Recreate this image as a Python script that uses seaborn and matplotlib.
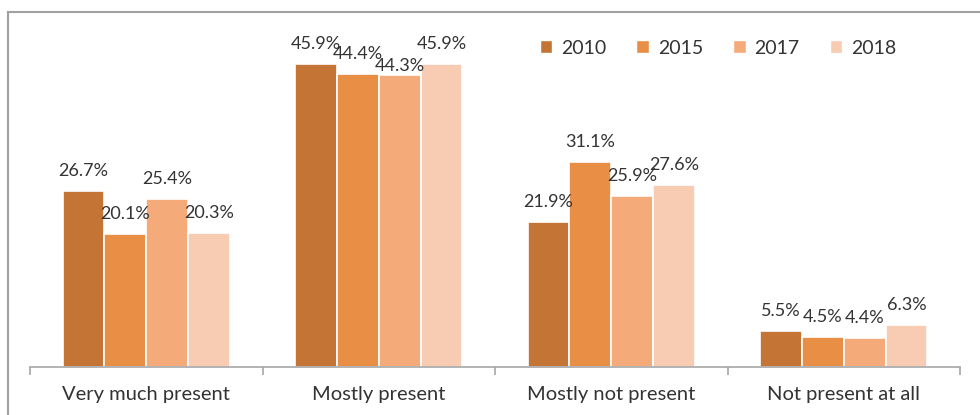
import matplotlib
matplotlib.use("Agg")
import matplotlib.pyplot as plt
from matplotlib.patches import Rectangle
from matplotlib.ticker import FixedLocator
import seaborn as sns
import pandas as pd

categories = ["Very much present", "Mostly present", "Mostly not present", "Not present at all"]
years = ["2010", "2015", "2017", "2018"]
values_2010 = [26.7, 45.9, 21.9, 5.5]
values_2015 = [20.1, 44.4, 31.1, 4.5]
values_2017 = [25.4, 44.3, 25.9, 4.4]
values_2018 = [20.3, 45.9, 27.6, 6.3]
colors = ["#C47535", "#E88E45", "#F5AA7A", "#F8CBB3"]

series = [values_2010, values_2015, values_2017, values_2018]
rows = []
for year, vals in zip(years, series):
    for cat, v in zip(categories, vals):
        rows.append({"category": cat, "year": year, "value": v})
df = pd.DataFrame(rows)

sns.set_theme(style="white")
plt.rcParams["font.family"] = ["Lato", "DejaVu Sans"]
text_color = "#333333"
grey = "#A6A6A6"

fig = plt.figure(figsize=(9.8, 4.15), dpi=100)
ax = fig.add_axes([30 / 980, 48 / 415, 930 / 980, 330 / 415])

sns.barplot(data=df, x="category", y="value", hue="year", order=categories,
            hue_order=years, palette=colors, width=0.72, edgecolor="white",
            linewidth=1.2, saturation=1, legend=False, ax=ax)

ax.set_xlim(-0.5, 3.5)
ax.set_ylim(0, 50)
ax.set_xlabel("")
ax.set_ylabel("")
ax.set_yticks([])
for s in ["top", "left", "right"]:
    ax.spines[s].set_visible(False)
ax.spines["bottom"].set_color(grey)
ax.spines["bottom"].set_linewidth(1.2)

ax.tick_params(axis="x", which="major", length=0, pad=14, labelsize=14.5,
               labelcolor=text_color)
ax.xaxis.set_minor_locator(FixedLocator([-0.5, 0.5, 1.5, 2.5, 3.5]))
ax.tick_params(axis="x", which="minor", bottom=True, length=6, width=1.2,
               color=grey, direction="out")

# value labels above each bar; crowded labels get nudged down to sit on the bar
label_offset = {(2, 1): 6}
for s_idx, (container, vals) in enumerate(zip(ax.containers, series)):
    for c_idx, (bar, v) in enumerate(zip(container, vals)):
        dy = label_offset.get((s_idx, c_idx), 14.5)
        ax.annotate(f"{v:.1f}%", (bar.get_x() + bar.get_width() / 2, v),
                    xytext=(0, dy), textcoords="offset points",
                    ha="center", va="center", fontsize=13, color=text_color)

# legend across the top
handles = [Rectangle((0, 0), 1, 1, facecolor=c, edgecolor="white") for c in colors]
fig.legend(handles, years, loc="center", bbox_to_anchor=(718 / 980, 1 - 48 / 415),
           ncol=4, frameon=False, fontsize=14, handlelength=0.65,
           handleheight=0.65, handletextpad=0.45, columnspacing=1.55,
           labelcolor=text_color)

# outer chart frame
fig.patches.append(Rectangle((8 / 980, -0.1), 1.1, (415 - 12) / 415 + 0.1,
                             transform=fig.transFigure, fill=False,
                             edgecolor="#A0A0A0", linewidth=1.5))

fig.savefig("out.png", dpi=100)
